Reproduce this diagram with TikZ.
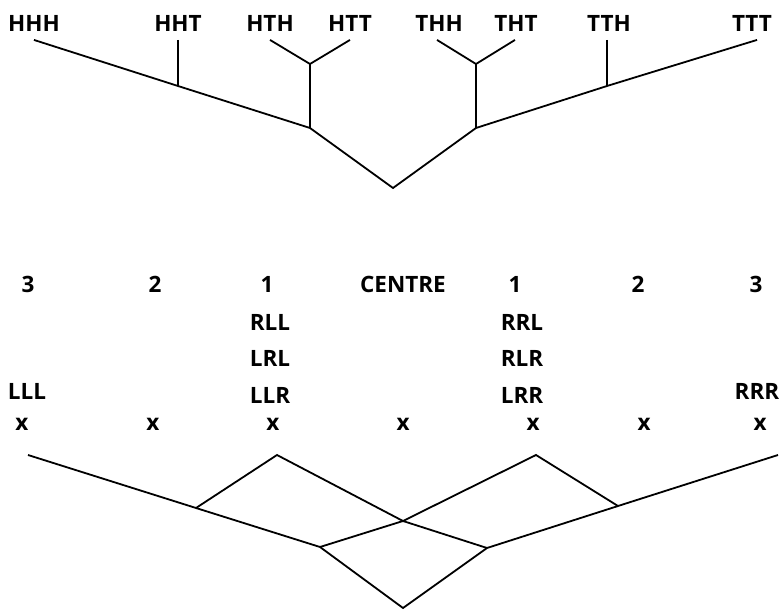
\documentclass[tikz,border=0pt]{standalone}
\usepackage{fontspec}
\setmainfont{Open Sans}
\usepackage{tikz}
\usetikzlibrary{positioning}

\begin{document}
\begin{tikzpicture}[x=1pt, y=-1pt, line width=1.8pt, line join=miter,
  lbl/.style={inner xsep=0pt, inner ysep=0pt, font=\bfseries\fontsize{22.5}{26}\selectfont},
  leaf/.style={lbl, inner ysep=8pt}]
  \useasboundingbox (0,0) rectangle (782,612);

  % Nodes (coin tree)
  \node[leaf] (HHH) at (34,23) {HHH};
  \node[leaf] (HHT) at (178,23) {HHT};
  \node[leaf] (HTH) at (270,23) {HTH};
  \node[leaf] (HTT) at (350,23) {HTT};
  \node[leaf] (THH) at (439,23) {THH};
  \node[leaf] (THT) at (516,23) {THT};
  \node[leaf] (TTH) at (609,23) {TTH};
  \node[leaf] (TTT) at (752,23) {TTT};

  \coordinate (HH) at (178,86);
  \coordinate (HT) at (310,64);
  \coordinate (H) at (310,128);
  \coordinate (root) at (393,188);
  \coordinate (T) at (476,128);
  \coordinate (TH) at (476,64);
  \coordinate (TT) at (607,86);

  % Paths / Edges (coin tree)
  \draw (HHH.south) -- (HH) -- (H) -- (root) -- (T) -- (TT) -- ([xshift=5pt]TTT.south);
  \draw (HHT.south) -- (HH);
  \draw (HTH.south) -- (HT) -- (HTT.south);
  \draw (HT) -- (H);
  \draw ([xshift=-2pt]THH.south) -- (TH) -- ([xshift=-1pt]THT.south);
  \draw (TH) -- (T);
  \draw ([xshift=-2pt]TTH.south) -- (TT);

  % Nodes (walk)
  \node[lbl] (L3) at (28,284) {3};
  \node[lbl] (L2) at (155,284) {2};
  \node[lbl] (L1) at (267,284) {1};
  \node[lbl] (centre) at (403,284) {CENTRE};
  \node[lbl] (R1) at (515,284) {1};
  \node[lbl] (R2) at (638,284) {2};
  \node[lbl] (R3) at (756,284) {3};

  \node[lbl] (RLL) at (270,322) {RLL};
  \node[lbl] (LRL) [below=19pt of RLL] {LRL};
  \node[lbl] (LLR) [below=19pt of LRL] {LLR};
  \node[lbl] (RRL) at (522,322) {RRL};
  \node[lbl] (RLR) [below=19pt of RRL] {RLR};
  \node[lbl] (LRR) [below=19pt of RLR] {LRR};
  \node[lbl] (LLL) at (27,391) {LLL};
  \node[lbl] (RRR) at (757,391) {RRR};

  \node[lbl] (xL3) at (22,424) {x};
  \node[lbl] (xL2) at (153,424) {x};
  \node[lbl] (xL1) at (273,424) {x};
  \node[lbl] (xC) at (403,424) {x};
  \node[lbl] (xR1) at (533,424) {x};
  \node[lbl] (xR2) at (644,424) {x};
  \node[lbl] (xR3) at (760,424) {x};

  \coordinate (w0) at (28,455);
  \coordinate (wl1) at (196,508);
  \coordinate (wl2) at (320,547);
  \coordinate (pl) at (277,455);
  \coordinate (mid) at (403,521);
  \coordinate (pr) at (536,455);
  \coordinate (wr1) at (618,506);
  \coordinate (wr2) at (487,548);
  \coordinate (e0) at (778,455);
  \coordinate (bot) at (403,608);

  % Paths / Edges (walk)
  \draw (w0) -- (wl1) -- (wl2) -- (bot) -- (wr2) -- (wr1) -- (e0);
  \draw (wl1) -- (pl) -- (mid) -- (wr2);
  \draw (wl2) -- (mid) -- (pr) -- (wr1);

\end{tikzpicture}
\end{document}
